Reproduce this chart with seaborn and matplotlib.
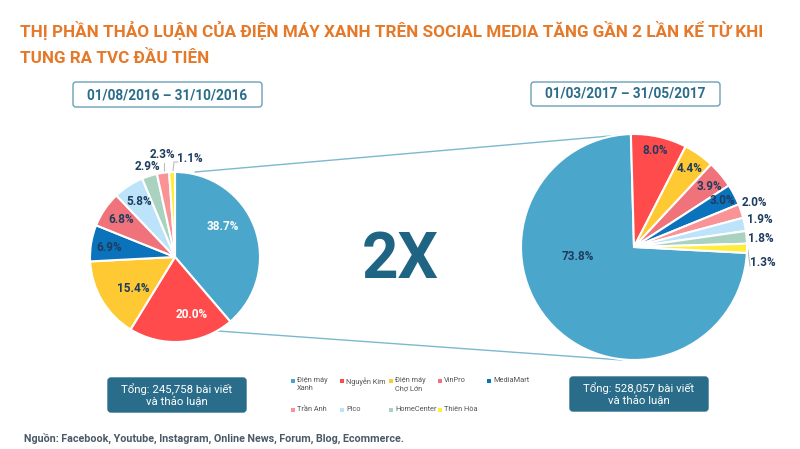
import seaborn as sns
import matplotlib.pyplot as plt
from matplotlib.patches import FancyBboxPatch, Rectangle

sns.set_theme(style='white')
plt.rcParams['font.family'] = ['Roboto', 'DejaVu Sans']

# data
brands = ['Điện máy\nXanh', 'Nguyễn Kim', 'Điện máy\nChợ Lớn', 'VinPro', 'MediaMart',
          'Trần Anh', 'Pico', 'HomeCenter', 'Thiên Hòa']
share_2016 = [38.7, 20.0, 15.4, 6.9, 6.8, 5.8, 2.9, 2.3, 1.1]
share_2017 = [73.8, 8.0, 4.4, 3.9, 3.0, 2.0, 1.9, 1.8, 1.3]
colors_2016 = ['#4BA6CC', '#FF4B4B', '#FFC933', '#0B72BC', '#F0737B',
               '#BDE3FA', '#A9D3C0', '#FA9396', '#FFED3B']
colors_2017 = ['#4BA6CC', '#FF4B4B', '#FFC933', '#F0737B', '#0B72BC',
               '#FA9396', '#BDE3FA', '#A9D3C0', '#FFED3B']

title_lines = ['THỊ PHẦN THẢO LUẬN CỦA ĐIỆN MÁY XANH TRÊN SOCIAL MEDIA TĂNG GẦN 2 LẦN KỂ TỪ KHI',
               'TUNG RA TVC ĐẦU TIÊN']
period_2016 = '01/08/2016 – 31/10/2016'
period_2017 = '01/03/2017 – 31/05/2017'
total_2016 = 'Tổng: 245,758 bài viết\nvà thảo luận'
total_2017 = 'Tổng: 528,057 bài viết\nvà thảo luận'
source = 'Nguồn: Facebook, Youtube, Instagram, Online News, Forum, Blog, Ecommerce.'

W, H = 800, 449
NAVY = '#1D3C5E'
TEAL = '#2A6D8B'
ORANGE = '#E5792A'

# label spots in pixels, same order as the shares
spots_2016 = [(223, 226), (192, 315), (133, 289), (109, 248), (121, 220),
              (139, 201), (147, 166), (162, 154), (190, 158)]
spots_2017 = [(578, 256), (655, 150), (690, 168), (709, 187), (722, 200),
              (754, 202), (760, 220), (761, 238), (763, 262)]
white_labels = [38.7, 20.0]

fig = plt.figure(figsize=(W / 100, H / 100), dpi=100, facecolor='white')


def txt(x, y, s, width=None, **kw):
    kw.setdefault('ha', 'center')
    kw.setdefault('va', 'center')
    t = fig.text(x / W, 1 - y / H, s, **kw)
    # shrink or grow the font until the text is as wide as in the picture
    if width:
        w = t.get_window_extent(fig.canvas.get_renderer()).width
        t.set_fontsize(t.get_fontsize() * width / w)
    return t


# overlay in pixel coords for boxes, connectors, legend
bg = fig.add_axes([0, 0, 1, 1])
bg.set_xlim(0, W)
bg.set_ylim(H, 0)
bg.axis('off')

bg.plot([195, 633], [172, 134], color='#7DB8CF', lw=1)
bg.plot([218, 622], [331, 360], color='#7DB8CF', lw=1)


def box(x0, y0, x1, y1, face, edge):
    bg.add_patch(FancyBboxPatch((x0 + 3, y0 + 3), x1 - x0 - 6, y1 - y0 - 6,
                                boxstyle='round,pad=3', fc=face, ec=edge, lw=1))


box(73, 82, 262, 107, 'white', '#6A9FB5')
box(531, 82, 720, 106, 'white', '#6A9FB5')
box(108, 378, 246, 412, TEAL, TEAL)
box(570, 377, 708, 411, TEAL, TEAL)

# leader lines of the small slices
bg.plot([164, 164], [163, 171], color='#BBBBBB', lw=0.8)
bg.plot([173, 174, 178], [171, 162, 162], color='#BBBBBB', lw=0.8)
bg.plot([748, 750], [250, 266], color='#BBBBBB', lw=0.8)


def draw_pie(cx, cy, r, values, colors, start):
    side = 2.5 * r
    ax = fig.add_axes([(cx - side / 2) / W, 1 - (cy + side / 2) / H, side / W, side / H])
    ax.pie(values, colors=colors, startangle=start, counterclock=False, radius=1,
           wedgeprops={'edgecolor': 'white', 'linewidth': 1.5})
    ax.patch.set_visible(False)
    return ax


draw_pie(175, 257, 85, share_2016, colors_2016, 90)
draw_pie(634, 247, 113, share_2017, colors_2017, -3)

for values, spots in ((share_2016, spots_2016), (share_2017, spots_2017)):
    for v, (x, y) in zip(values, spots):
        c = 'white' if values is share_2016 and v in white_labels else NAVY
        txt(x, y, f'{v:.1f}%', color=c, fontsize=8.5, fontweight='bold')

# legend, 5 per row
for i, (name, c) in enumerate(zip(brands, colors_2017)):
    x = 291 + 49 * (i % 5)
    y = 381 + 29 * (i // 5)
    bg.add_patch(Rectangle((x, y - 2), 4, 4, fc=c, ec='none'))
    txt(x + 6, y - 4, name, ha='left', va='top', fontsize=5.3, color='#555555', linespacing=1.3)

# texts
txt(20, 30, title_lines[0], width=745, ha='left', color=ORANGE, fontsize=16, fontweight='bold')
txt(20, 58, title_lines[1], width=189, ha='left', color=ORANGE, fontsize=16, fontweight='bold')
txt(167, 95, period_2016, width=161, color=TEAL, fontsize=10, fontweight='bold')
txt(625, 94, period_2017, width=161, color=TEAL, fontsize=10, fontweight='bold')
txt(177, 395, total_2016, width=112, color='white', fontsize=9, linespacing=1.2)
txt(639, 394, total_2017, width=112, color='white', fontsize=9, linespacing=1.2)
txt(400, 261, '2X', width=77, color='#1F6583', fontsize=50, fontweight='bold')
txt(24, 438, source, width=381, ha='left', color='#4A5A68', fontsize=7.5, fontweight='bold')

fig.savefig('out.png', dpi=100)
